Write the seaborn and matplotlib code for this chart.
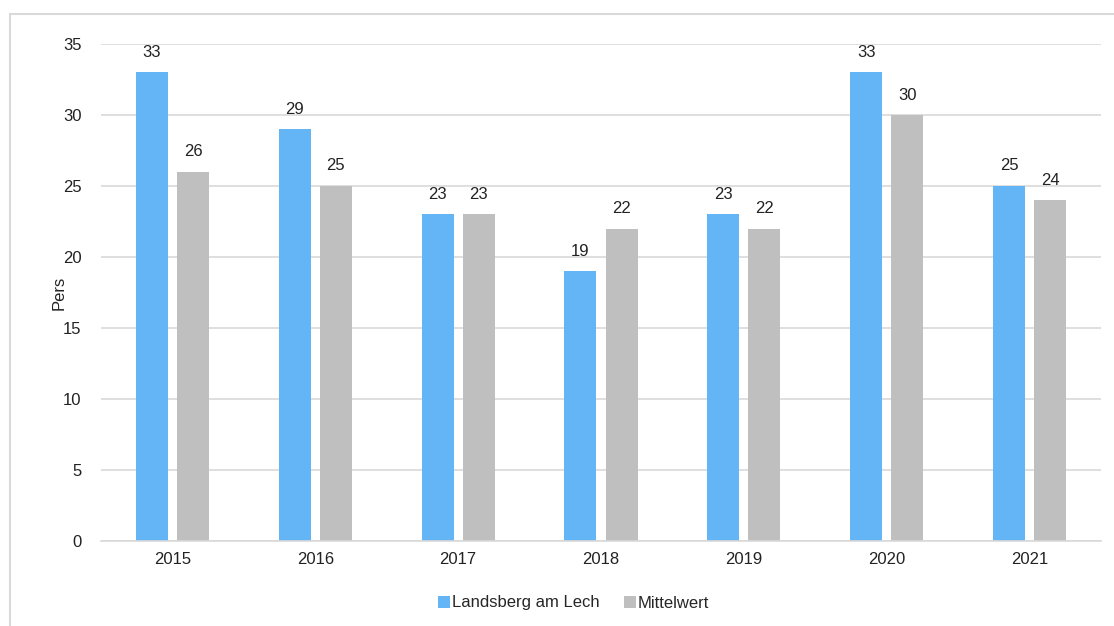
import matplotlib
matplotlib.use("Agg")
import matplotlib.pyplot as plt
import seaborn as sns
import pandas as pd
from matplotlib.patches import Rectangle, Patch

years = ["2015", "2016", "2017", "2018", "2019", "2020", "2021"]
landsberg = [33, 29, 23, 19, 23, 33, 25]
mittelwert = [26, 25, 23, 22, 22, 30, 24]
series_names = ["Landsberg am Lech", "Mittelwert"]
colors = ["#64B5F6", "#BFBFBF"]

sns.set_theme(style="white")
plt.rcParams["font.family"] = ["Liberation Sans", "DejaVu Sans"]

df = pd.DataFrame({
    "Jahr": years * 2,
    "Wert": landsberg + mittelwert,
    "Serie": [series_names[0]] * len(years) + [series_names[1]] * len(years),
})

fs = 12
fig = plt.figure(figsize=(11.14, 6.26), dpi=100)
ax = fig.add_axes([101 / 1114, 1 - 541 / 626, 1000 / 1114, 497 / 626])

sns.barplot(data=df, x="Jahr", y="Wert", hue="Serie", palette=colors,
            width=0.575, gap=0.22, ax=ax, legend=False, saturation=1,
            linewidth=0, edgecolor="none")

for cont in ax.containers:
    ax.bar_label(cont, labels=[f"{int(v)}" for v in cont.datavalues],
                 padding=9, fontsize=fs, color="#222222")

ax.set_ylim(0, 35)
ax.set_yticks(range(0, 36, 5))
ax.set_xlim(-0.5, 6.5)
ax.yaxis.grid(True, color="#d9d9d9", linewidth=1.2)
ax.set_axisbelow(True)
for s in ["top", "right", "left"]:
    ax.spines[s].set_visible(False)
ax.spines["bottom"].set_color("#d9d9d9")
ax.spines["bottom"].set_linewidth(1.2)
ax.tick_params(axis="both", length=0, labelsize=fs, colors="#222222")
ax.tick_params(axis="y", pad=14)
ax.tick_params(axis="x", pad=8)
ax.set_xlabel("")
ax.set_ylabel("Pers", fontsize=fs, color="#222222", labelpad=-3)

handles = [Patch(facecolor=c, edgecolor="none") for c in colors]
fig.legend(handles, series_names, loc="center", bbox_to_anchor=(0.515, 1 - 603 / 626),
           ncol=2, frameon=False, fontsize=fs, handlelength=0.7, handleheight=0.7,
           handletextpad=0.1, columnspacing=1.5)

fig.patches.append(Rectangle((10 / 1114, -0.1), 1.2, 1 - 14 / 626 + 0.1,
                             transform=fig.transFigure, fill=False,
                             edgecolor="#d9d9d9", linewidth=1.5))

fig.savefig("out.png", dpi=100, facecolor="white")
